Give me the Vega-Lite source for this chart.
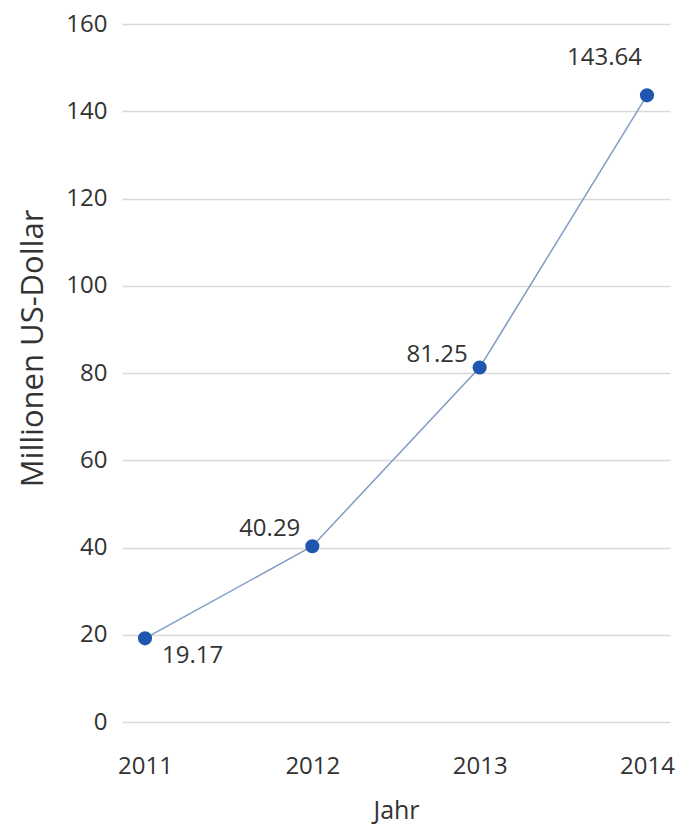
{
  "$schema": "https://vega.github.io/schema/vega-lite/v6.json",
  "width": 548,
  "height": 698,
  "autosize": {"type": "none"},
  "padding": {"left": 122, "top": 24, "right": 17, "bottom": 102},
  "background": "white",
  "data": {
    "values": [
      {"year": "2011", "value": 19.17},
      {"year": "2012", "value": 40.29},
      {"year": "2013", "value": 81.25},
      {"year": "2014", "value": 143.64}
    ]
  },
  "encoding": {
    "x": {
      "field": "year",
      "type": "ordinal",
      "scale": {"type": "point", "padding": 0.1375},
      "axis": {
        "title": "Jahr",
        "labelAngle": 0,
        "domain": false,
        "ticks": false,
        "tickSize": 0,
        "grid": false,
        "labelPadding": 32,
        "labelFontSize": 24,
        "labelColor": "#333333",
        "labelFont": "Open Sans, sans-serif",
        "titleFont": "Open Sans, sans-serif",
        "titleFontSize": 25,
        "titleFontWeight": "normal",
        "titleColor": "#333333",
        "titleBaseline": "alphabetic",
        "titleY": 96
      }
    },
    "y": {
      "field": "value",
      "type": "quantitative",
      "scale": {"domain": [0, 160], "nice": false},
      "axis": {
        "title": "Millionen US-Dollar",
        "values": [0, 20, 40, 60, 80, 100, 120, 140, 160],
        "domain": false,
        "ticks": false,
        "tickSize": 0,
        "labelPadding": 15,
        "labelFontSize": 24,
        "labelColor": "#333333",
        "labelFont": "Open Sans, sans-serif",
        "gridColor": "#d9d9d9",
        "gridWidth": 1.5,
        "titleFont": "Open Sans, sans-serif",
        "titleFontSize": 31,
        "titleFontWeight": "normal",
        "titleColor": "#333333",
        "titleBaseline": "alphabetic",
        "titleAlign": "center",
        "titleAngle": -90,
        "titleX": -80,
        "titleY": 324
      }
    }
  },
  "layer": [
    {
      "mark": {"type": "line", "color": "#809cc4", "strokeWidth": 1.5}
    },
    {
      "mark": {"type": "point", "filled": true, "size": 200, "color": "#1f57b0", "opacity": 1}
    },
    {
      "transform": [{"filter": "datum.year == '2011'"}],
      "mark": {"type": "text", "align": "left", "baseline": "alphabetic", "dx": 17, "dy": 25, "fontSize": 24, "color": "#333333", "font": "Open Sans, sans-serif"},
      "encoding": {"text": {"field": "value", "type": "quantitative", "format": ".2f"}}
    },
    {
      "transform": [{"filter": "datum.year == '2012'"}],
      "mark": {"type": "text", "align": "right", "baseline": "alphabetic", "dx": -12, "dy": -10, "fontSize": 24, "color": "#333333", "font": "Open Sans, sans-serif"},
      "encoding": {"text": {"field": "value", "type": "quantitative", "format": ".2f"}}
    },
    {
      "transform": [{"filter": "datum.year == '2013'"}],
      "mark": {"type": "text", "align": "right", "baseline": "alphabetic", "dx": -12, "dy": -6, "fontSize": 24, "color": "#333333", "font": "Open Sans, sans-serif"},
      "encoding": {"text": {"field": "value", "type": "quantitative", "format": ".2f"}}
    },
    {
      "transform": [{"filter": "datum.year == '2014'"}],
      "mark": {"type": "text", "align": "right", "baseline": "alphabetic", "dx": -5, "dy": -30, "fontSize": 24, "color": "#333333", "font": "Open Sans, sans-serif"},
      "encoding": {"text": {"field": "value", "type": "quantitative", "format": ".2f"}}
    }
  ],
  "config": {"view": {"stroke": null}}
}
